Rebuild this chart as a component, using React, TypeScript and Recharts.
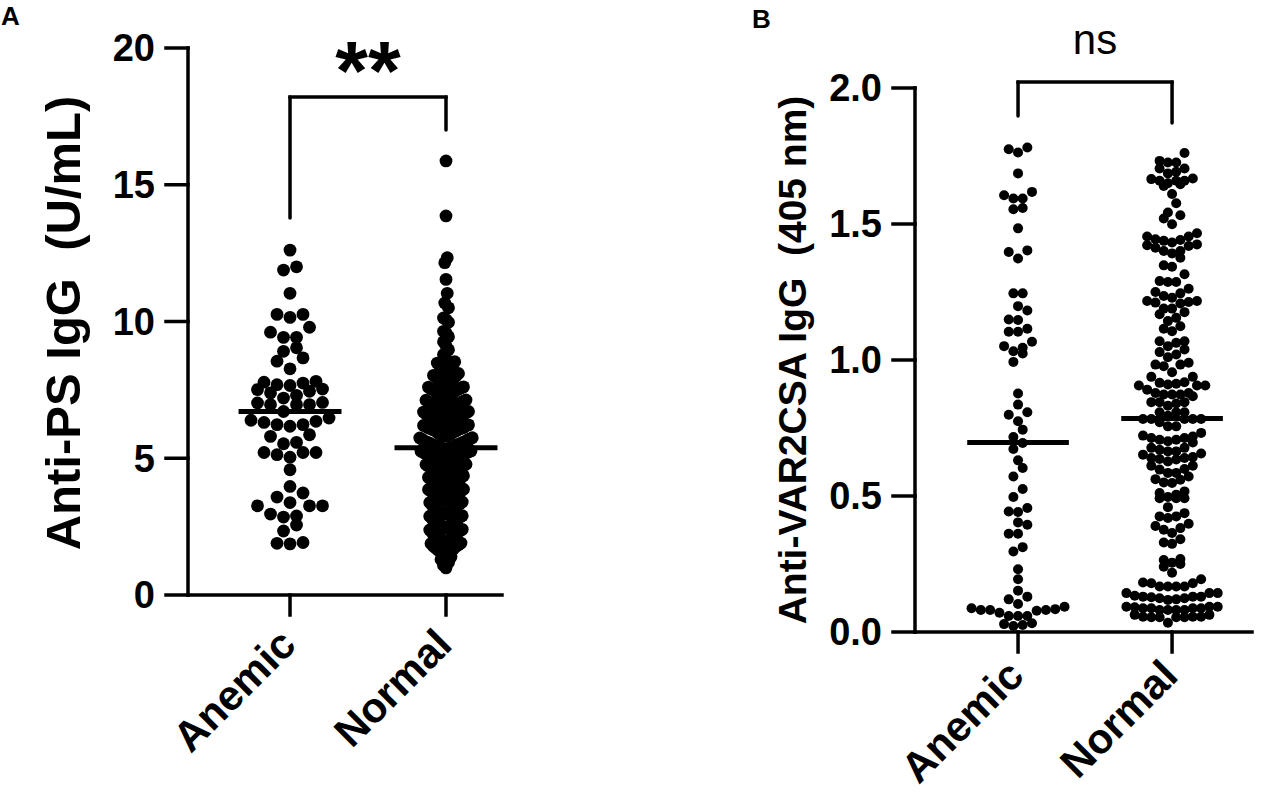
import React from 'react';
import { ScatterChart, Scatter, XAxis, YAxis, ReferenceLine, ReferenceDot } from 'recharts';

const FONT = '"Liberation Sans", Arial, Helvetica, sans-serif';

const categories = ['Anemic', 'Normal'];

// Panel A - anti-PS IgG (U/mL), values
const psAnemic = [
  12.61, 11.88, 12.0, 11.03, 10.15, 10.26, 10.26, 9.61, 9.79, 9.42, 9.42, 8.91, 9.04, 8.55, 8.67,
  8.27, 7.78, 7.51, 7.45, 7.66, 7.53, 7.81, 7.69, 7.75, 7.2, 7.39, 7.3, 6.96, 6.96, 7.04, 7.02,
  6.96, 6.71, 6.35, 6.17, 6.23, 6.31, 6.23, 6.39, 6.47, 5.86, 5.8, 5.53, 5.58, 5.13, 5.21, 5.04,
  5.21, 5.21, 4.58, 3.97, 3.58, 3.73, 3.26, 3.26, 3.26, 3.38, 2.96, 2.89, 2.85, 2.56, 2.34, 1.87,
  1.92, 1.89,
];
const psNormal = [
  15.87, 13.86, 12.33, 12.15, 11.54, 11.03, 10.68, 10.5, 10.13, 10.07, 9.97, 9.64, 9.58,
  9.44, 9.26, 9.11,
  8.97, 8.79, 8.64, 8.53,
  8.48, 8.44, 8.37, 8.29, 8.27, 8.18, 8.12, 8.1, 8.03, 8.01,
  7.98, 7.91, 7.89, 7.85, 7.77, 7.74, 7.72, 7.66, 7.61, 7.6, 7.57, 7.54, 7.52, 7.5,
  7.49, 7.43, 7.41, 7.36, 7.34, 7.28, 7.25, 7.24, 7.19, 7.13, 7.12, 7.09, 7.06, 7.04, 7.02, 7.0,
  6.99, 6.96, 6.92, 6.91, 6.88, 6.83, 6.82, 6.8, 6.77, 6.72, 6.71, 6.69, 6.66, 6.62, 6.61, 6.59,
  6.57, 6.55, 6.52, 6.51,
  6.49, 6.46, 6.42, 6.41, 6.38, 6.35, 6.31, 6.3, 6.27, 6.22, 6.2, 6.19, 6.16, 6.12, 6.11, 6.09,
  6.07, 6.05, 6.03, 6.0,
  5.99, 5.96, 5.91, 5.89, 5.88, 5.85, 5.81, 5.8, 5.75, 5.74, 5.7, 5.69, 5.66, 5.62, 5.61, 5.59,
  5.57, 5.55, 5.53, 5.5,
  5.49, 5.48, 5.46, 5.42, 5.4, 5.4, 5.38, 5.36, 5.32, 5.31, 5.27, 5.26, 5.23, 5.21, 5.18, 5.16,
  5.12, 5.1, 5.1, 5.08, 5.06, 5.03, 5.02, 5.0,
  4.99, 4.96, 4.93, 4.89, 4.88, 4.85, 4.82, 4.78, 4.77, 4.74, 4.71, 4.68, 4.67, 4.64, 4.6, 4.59,
  4.57, 4.53, 4.52, 4.5,
  4.47, 4.46, 4.4, 4.37, 4.36, 4.3, 4.29, 4.23, 4.2, 4.19, 4.13, 4.12, 4.07, 4.06, 4.02, 4.0,
  3.99, 3.94, 3.92, 3.87, 3.86, 3.8, 3.79, 3.73, 3.72, 3.67, 3.65, 3.6, 3.59, 3.56, 3.52, 3.5,
  3.49, 3.45, 3.4, 3.38, 3.34, 3.28, 3.27, 3.21, 3.19, 3.13, 3.12, 3.08, 3.03, 3.01,
  2.99, 2.95, 2.9, 2.88, 2.84, 2.78, 2.77, 2.71, 2.69, 2.63, 2.62, 2.58, 2.53, 2.51,
  2.49, 2.45, 2.4, 2.38, 2.34, 2.28, 2.27, 2.21, 2.19, 2.13, 2.12, 2.08, 2.03, 2.01,
  1.99, 1.95, 1.9, 1.88, 1.84, 1.78, 1.77, 1.71, 1.69, 1.63, 1.62, 1.58, 1.53, 1.51,
  1.47, 1.39, 1.3, 1.19, 1.09, 0.99,
];
const psMeans = [6.71, 5.38];
const psTicks = [0, 5, 10, 15, 20];

// Panel B - anti-VAR2CSA IgG (405 nm)
const varAnemic = [
  1.775, 1.763, 1.781, 1.686, 1.606, 1.594, 1.618, 1.594, 1.559, 1.554, 1.484, 1.397, 1.373, 1.403,
  1.245, 1.245, 1.198, 1.182, 1.149, 1.147, 1.104, 1.115, 1.104, 1.067, 1.051, 1.045, 1.024, 1.032,
  0.993, 0.877, 0.836, 0.799, 0.808, 0.775, 0.744, 0.717, 0.695, 0.673, 0.631, 0.603, 0.572, 0.526,
  0.496, 0.456, 0.441, 0.443, 0.394, 0.403, 0.361, 0.361, 0.296, 0.312, 0.231, 0.194, 0.152, 0.13,
  0.12, 0.081, 0.078, 0.084, 0.081, 0.103, 0.087, 0.093, 0.071, 0.081, 0.059, 0.059, 0.059, 0.029,
  0.032, 0.022, 0.026,
];
const varNormal = [
  1.761, 1.726, 1.726, 1.732, 1.692, 1.704, 1.704, 1.686, 1.65, 1.659, 1.667, 1.665, 1.64, 1.659,
  1.659, 1.646, 1.61, 1.576, 1.532, 1.52, 1.542, 1.499, 1.438, 1.422, 1.454, 1.454, 1.432, 1.466,
  1.425, 1.444, 1.441, 1.413, 1.419, 1.401, 1.401, 1.392, 1.376, 1.343, 1.348, 1.315, 1.287, 1.287,
  1.29, 1.262, 1.245, 1.25, 1.208, 1.217, 1.217, 1.229, 1.235, 1.189, 1.189, 1.213, 1.211, 1.176,
  1.155, 1.168, 1.143, 1.124, 1.115, 1.106, 1.063, 1.051, 1.029, 1.039, 1.069, 1.069, 1.01, 0.99,
  0.983, 0.977, 0.983, 1.02, 0.955, 0.938, 0.938, 0.891, 0.91, 0.906, 0.906, 0.916, 0.913, 0.906,
  0.918, 0.879, 0.867, 0.845, 0.845, 0.84, 0.873, 0.873, 0.845, 0.873, 0.879, 0.808, 0.783, 0.783,
  0.783, 0.808, 0.832, 0.795, 0.808, 0.771, 0.783, 0.783, 0.756, 0.756, 0.707, 0.719, 0.701, 0.713,
  0.707, 0.713, 0.732, 0.722, 0.697, 0.677, 0.677, 0.67, 0.643, 0.656, 0.64, 0.64, 0.634, 0.652,
  0.664, 0.664, 0.636, 0.611, 0.627, 0.611, 0.597, 0.599, 0.585, 0.572, 0.585, 0.56, 0.562, 0.55,
  0.548, 0.517, 0.511, 0.492, 0.492, 0.496, 0.492, 0.505, 0.459, 0.437, 0.419, 0.425, 0.425, 0.398,
  0.39, 0.382, 0.376, 0.364, 0.341, 0.329, 0.324, 0.255, 0.265, 0.268, 0.24, 0.25, 0.218, 0.194,
  0.167, 0.182, 0.167, 0.167, 0.179, 0.179, 0.167, 0.124, 0.143, 0.128, 0.133, 0.12, 0.13, 0.143,
  0.13, 0.143, 0.13, 0.118, 0.124, 0.087, 0.093, 0.081, 0.081, 0.091, 0.087, 0.093, 0.081, 0.087,
  0.093, 0.081, 0.087, 0.056, 0.056, 0.054, 0.056, 0.063, 0.054, 0.054, 0.063, 0.054, 0.034,
];
const varMeans = [0.697, 0.785];
const varTicks = [0, 0.5, 1.0, 1.5, 2.0];

// Prism-style rows: values within one band share a row, spread sideways
function swarm(values: number[], center: number, band: number, gapPx: number, pxPerUnit: number) {
  const sorted = [...values].sort((a, b) => a - b);
  const rows: number[][] = [];
  let start = -Infinity;
  for (const v of sorted) {
    if (v - start >= band) {
      rows.push([v]);
      start = v;
    } else {
      rows[rows.length - 1].push(v);
    }
  }
  const pts: { x: number; y: number }[] = [];
  rows.forEach((row) => {
    const n = row.length;
    const slots = Array.from({ length: n }, (_, i) => i - (n - 1) / 2).sort(
      (a, b) => Math.abs(a) - Math.abs(b) || a - b
    );
    row.forEach((v, i) => pts.push({ x: center + (slots[i] * gapPx) / pxPerUnit, y: v }));
  });
  return pts;
}

const AXIS = { stroke: '#000', strokeWidth: 3.5, strokeLinecap: 'square' as const };

const CatTick = (props: any) => {
  const { x, y, payload, shiftY = 0 } = props;
  return (
    <g transform={`translate(${x + 8},${y + 32 + shiftY})`}>
      <text
        transform="rotate(-45)"
        textAnchor="end"
        fontSize={42}
        fontWeight={700}
        fontFamily={FONT}
        fill="#000"
      >
        {categories[Math.round(payload.value) - 1]}
      </text>
    </g>
  );
};

const AxisTitle = ({ x, y, size, text }: { x: number; y: number; size: number; text: string }) => (
  <text
    x={x}
    y={y}
    transform={`rotate(-90 ${x} ${y})`}
    textAnchor="middle"
    fontSize={size}
    fontWeight={700}
    fontFamily={FONT}
    fill="#000"
    style={{ whiteSpace: 'pre' }}
  >
    {text}
  </text>
);

const dot = (r: number) => (p: any) => <circle cx={p.cx} cy={p.cy} r={r} fill="#000" />;

const tickStyle = { fontSize: 38, fontWeight: 700, fill: '#000', fontFamily: FONT };

// geometry of panel A
const A_DOMAIN: [number, number] = [0.346, 2.359];
const A_PX = 314 / (A_DOMAIN[1] - A_DOMAIN[0]);
// geometry of panel B
const B_DOMAIN: [number, number] = [0.331, 2.519];
const B_PX = 337 / (B_DOMAIN[1] - B_DOMAIN[0]);

const psAnemicPts = swarm(psAnemic, 1, 0.45, 13, A_PX);
const psNormalPts = swarm(psNormal, 2, 0.45, 2.5, A_PX);
const varAnemicPts = swarm(varAnemic, 1, 0.036, 9.3, B_PX);
const varNormalPts = swarm(varNormal, 2, 0.036, 8.3, B_PX);

const MEAN_HALF = 0.33;

export default function App() {
  return (
    <div style={{ position: 'absolute', left: 0, top: 0, width: 1277, height: 795, background: '#fff' }}>
      <div style={{ position: 'absolute', left: 1, top: 3, fontFamily: FONT, fontWeight: 700, fontSize: 26, lineHeight: 1 }}>A</div>
      <div style={{ position: 'absolute', left: 752, top: 6, fontFamily: FONT, fontWeight: 700, fontSize: 26, lineHeight: 1 }}>B</div>

      <div style={{ position: 'absolute', left: 0, top: 0 }}>
        <ScatterChart width={530} height={795} margin={{ top: 48, right: 28, bottom: 0, left: 0 }}>
          <XAxis
            type="number"
            dataKey="x"
            domain={A_DOMAIN}
            ticks={[1, 2]}
            allowDataOverflow
            height={200}
            tickSize={20}
            tickMargin={0}
            axisLine={AXIS}
            tickLine={AXIS}
            tick={<CatTick />}
          />
          <YAxis
            type="number"
            dataKey="y"
            domain={[0, 20]}
            ticks={psTicks}
            width={188}
            tickSize={22}
            tickMargin={11}
            axisLine={AXIS}
            tickLine={AXIS}
            tick={tickStyle}
            label={{ content: () => <AxisTitle x={80} y={323} size={49} text="Anti-PS IgG  (U/mL)" /> }}
          />
          <Scatter data={psAnemicPts} shape={dot(6.4)} isAnimationActive={false} />
          <Scatter data={psNormalPts} shape={dot(6.4)} isAnimationActive={false} />
          {psMeans.map((m, i) => (
            <ReferenceLine
              key={`pm${i}`}
              segment={[{ x: i + 1 - MEAN_HALF, y: m }, { x: i + 1 + MEAN_HALF, y: m }]}
              stroke="#000"
              strokeWidth={5}
              ifOverflow="visible"
            />
          ))}
          <ReferenceLine segment={[{ x: 1, y: 18.21 }, { x: 2, y: 18.21 }]} stroke="#000" strokeWidth={3.5} strokeLinecap="square" ifOverflow="visible" />
          <ReferenceLine segment={[{ x: 1, y: 13.78 }, { x: 1, y: 18.21 }]} stroke="#000" strokeWidth={3.5} strokeLinecap="round" ifOverflow="visible" />
          <ReferenceLine segment={[{ x: 2, y: 17.0 }, { x: 2, y: 18.21 }]} stroke="#000" strokeWidth={3.5} strokeLinecap="round" ifOverflow="visible" />
          <ReferenceDot
            x={1.5}
            y={18.1}
            r={1}
            fill="none"
            stroke="none"
            ifOverflow="visible"
            label={{
              content: (p: any) => (
                <text x={p.viewBox.x + p.viewBox.width / 2} y={p.viewBox.y + p.viewBox.height / 2} textAnchor="middle" fontSize={84} fontWeight={700} fontFamily={FONT} fill="#000">
                  **
                </text>
              ),
            }}
          />
        </ScatterChart>
      </div>

      <div style={{ position: 'absolute', left: 700, top: 0 }}>
        <ScatterChart width={577} height={795} margin={{ top: 88, right: 25, bottom: 0, left: 0 }}>
          <XAxis
            type="number"
            dataKey="x"
            domain={B_DOMAIN}
            ticks={[1, 2]}
            allowDataOverflow
            height={163}
            tickSize={20}
            tickMargin={0}
            axisLine={AXIS}
            tickLine={AXIS}
            tick={<CatTick shiftY={-6} />}
          />
          <YAxis
            type="number"
            dataKey="y"
            domain={[0, 2]}
            ticks={varTicks}
            width={215}
            tickSize={22}
            tickMargin={11}
            axisLine={AXIS}
            tickLine={AXIS}
            tick={tickStyle}
            tickFormatter={(v: number) => v.toFixed(1)}
            label={{ content: () => <AxisTitle x={106} y={360} size={39} text="Anti-VAR2CSA IgG  (405 nm)" /> }}
          />
          <Scatter data={varAnemicPts} shape={dot(5)} isAnimationActive={false} />
          <Scatter data={varNormalPts} shape={dot(5)} isAnimationActive={false} />
          {varMeans.map((m, i) => (
            <ReferenceLine
              key={`vm${i}`}
              segment={[{ x: i + 1 - MEAN_HALF, y: m }, { x: i + 1 + MEAN_HALF, y: m }]}
              stroke="#000"
              strokeWidth={5}
              ifOverflow="visible"
            />
          ))}
          <ReferenceLine segment={[{ x: 1, y: 2.022 }, { x: 2, y: 2.022 }]} stroke="#000" strokeWidth={3.5} strokeLinecap="square" ifOverflow="visible" />
          <ReferenceLine segment={[{ x: 1, y: 1.897 }, { x: 1, y: 2.022 }]} stroke="#000" strokeWidth={3.5} strokeLinecap="round" ifOverflow="visible" />
          <ReferenceLine segment={[{ x: 2, y: 1.871 }, { x: 2, y: 2.022 }]} stroke="#000" strokeWidth={3.5} strokeLinecap="round" ifOverflow="visible" />
          <ReferenceDot
            x={1.5}
            y={2.125}
            r={1}
            fill="none"
            stroke="none"
            ifOverflow="visible"
            label={{
              content: (p: any) => (
                <text x={p.viewBox.x + p.viewBox.width / 2} y={p.viewBox.y + p.viewBox.height / 2} textAnchor="middle" fontSize={42} fontFamily={FONT} fill="#000">
                  ns
                </text>
              ),
            }}
          />
        </ScatterChart>
      </div>
    </div>
  );
}
